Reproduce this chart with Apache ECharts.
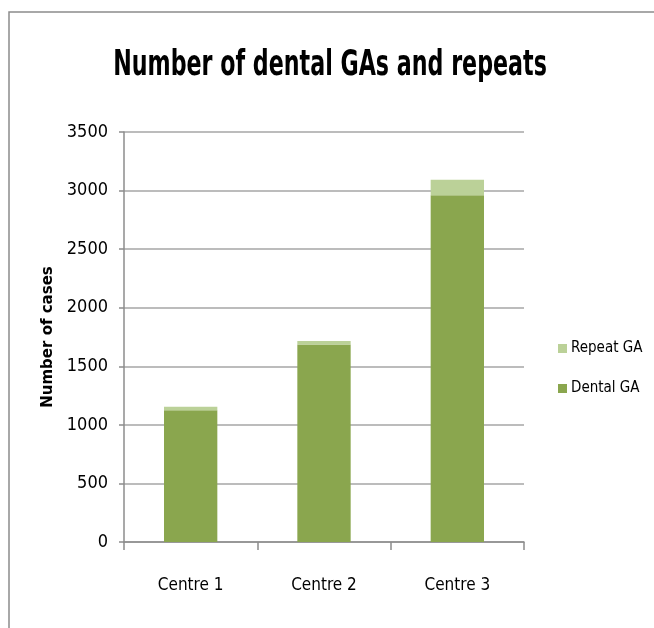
<!DOCTYPE html>
<html>
<head>
<meta charset="utf-8">
<script src="https://cdn.jsdelivr.net/npm/echarts@6/dist/echarts.min.js"></script>
<style>
html,body{margin:0;padding:0;background:#fff;}
#chart{width:654px;height:628px;}
</style>
</head>
<body>
<div id="chart"></div>
<script>
const categories = ['Centre 1', 'Centre 2', 'Centre 3'];
const dentalGA = [1125, 1685, 2960];
const repeatGA = [30, 31, 132];
const yTicks = [0, 500, 1000, 1500, 2000, 2500, 3000, 3500];
const titleText = 'Number of dental GAs and repeats';

const narrow = "'DejaVu Sans Condensed', 'Liberation Sans Narrow', sans-serif";

const chart = echarts.init(document.getElementById('chart'), null, {renderer: 'canvas'});
chart.setOption({
  animation: false,
  backgroundColor: '#ffffff',
  graphic: [
    {
      type: 'rect',
      shape: {x: 9, y: 12, width: 700, height: 700},
      style: {fill: 'none', stroke: '#8c8c8c', lineWidth: 1.5},
      silent: true
    },
    {
      type: 'text',
      x: 330,
      y: 48,
      scaleX: 0.685,
      silent: true,
      style: {
        text: titleText,
        x: 0, y: 0,
        align: 'center', verticalAlign: 'top',
        textAlign: 'center', textVerticalAlign: 'top',
        font: "bold 36px 'DejaVu Sans Condensed', sans-serif",
        fill: '#000'
      }
    }
  ],
  legend: {
    orient: 'vertical',
    left: 553,
    top: 336,
    itemWidth: 9,
    itemHeight: 9,
    itemGap: 25,
    icon: 'rect',
    data: ['Repeat GA', 'Dental GA'],
    textStyle: {fontFamily: narrow, fontSize: 15, color: '#000', padding: [0, 0, 0, -1]}
  },
  grid: {left: 124, right: 130, top: 132, bottom: 86, containLabel: false},
  xAxis: {
    type: 'category',
    data: categories,
    axisLine: {lineStyle: {color: '#8c8c8c', width: 1.5}},
    axisTick: {show: true, length: 8, lineStyle: {color: '#8c8c8c', width: 1.5}},
    axisLabel: {margin: 35, fontFamily: narrow, fontSize: 17, color: '#000'}
  },
  yAxis: {
    type: 'value',
    min: yTicks[0],
    max: yTicks[yTicks.length - 1],
    interval: yTicks[1] - yTicks[0],
    name: 'Number of cases',
    nameLocation: 'middle',
    nameGap: 66,
    nameRotate: 90,
    nameTextStyle: {fontFamily: "'DejaVu Sans', sans-serif", fontWeight: 'bold', fontSize: 15, color: '#000'},
    axisLine: {show: true, lineStyle: {color: '#8c8c8c', width: 1.5}},
    axisTick: {show: true, length: 5, lineStyle: {color: '#8c8c8c', width: 1.5}},
    splitLine: {lineStyle: {color: '#a6a6a6', width: 1.5}},
    axisLabel: {margin: 16, fontFamily: narrow, fontSize: 18, color: '#000', formatter: function (v) { return String(v); }}
  },
  series: [
    {
      name: 'Dental GA',
      type: 'bar',
      stack: 'total',
      data: dentalGA,
      barWidth: '40%',
      itemStyle: {color: '#8aa64e'}
    },
    {
      name: 'Repeat GA',
      type: 'bar',
      stack: 'total',
      data: repeatGA,
      barWidth: '40%',
      itemStyle: {color: '#bbd198'}
    }
  ]
});
</script>
</body>
</html>
